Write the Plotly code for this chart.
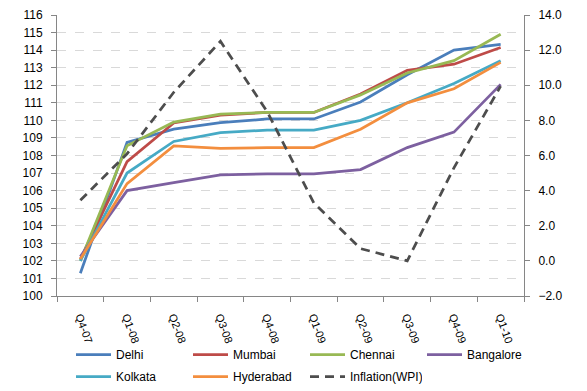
import plotly.graph_objects as go

quarters = ["Q4-07", "Q1-08", "Q2-08", "Q3-08", "Q4-08", "Q1-09", "Q2-09", "Q3-09", "Q4-09", "Q1-10"]
delhi = [101.3, 108.75, 109.5, 109.87, 110.08, 110.08, 111.05, 112.6, 114.0, 114.33]
mumbai = [102.1, 107.65, 109.85, 110.3, 110.45, 110.45, 111.5, 112.85, 113.2, 114.15]
chennai = [102.0, 108.55, 109.9, 110.35, 110.45, 110.45, 111.45, 112.7, 113.4, 114.9]
bangalore = [102.25, 106.0, 106.45, 106.9, 106.95, 106.95, 107.2, 108.45, 109.33, 112.05]
kolkata = [102.0, 107.0, 108.8, 109.3, 109.45, 109.45, 110.0, 111.0, 112.1, 113.4]
hyderabad = [102.1, 106.4, 108.55, 108.4, 108.45, 108.45, 109.5, 111.0, 111.8, 113.3]
inflation = [3.45, 6.1, 9.6, 12.5, 8.5, 3.3, 0.7, 0.0, 5.3, 9.95]

series = [
    ("Delhi", delhi, "#4A7EBB", "legend"),
    ("Mumbai", mumbai, "#BE4B48", "legend"),
    ("Chennai", chennai, "#98B954", "legend"),
    ("Bangalore", bangalore, "#7D60A0", "legend"),
    ("Kolkata", kolkata, "#46AAC5", "legend2"),
    ("Hyderabad", hyderabad, "#F38E3E", "legend2"),
]

fig = go.Figure()
for name, vals, col, lg in series:
    fig.add_trace(go.Scatter(x=quarters, y=vals, name=name, mode="lines", legend=lg,
                             line=dict(color=col, width=2.75)))
fig.add_trace(go.Scatter(x=quarters, y=inflation, name="Inflation(WPI)", mode="lines",
                         yaxis="y2", legend="legend2",
                         line=dict(color="#4D4D4D", width=2.75, dash="9px,6px")))

leg_common = dict(orientation="h", xanchor="left", yanchor="top", xref="container",
                  yref="container", entrywidth=67, entrywidthmode="pixels",
                  font=dict(size=12, color="#000000"), itemwidth=35,
                  bgcolor="rgba(0,0,0,0)")

fig.update_layout(
    width=587, height=391,
    margin=dict(l=49, r=71, t=7, b=103, autoexpand=False),
    paper_bgcolor="white", plot_bgcolor="white",
    font=dict(family="Liberation Sans, Arial, sans-serif", size=12, color="#000000"),
    showlegend=True,
    legend=dict(x=63 / 587, y=1 - 332 / 391, **leg_common),
    legend2=dict(x=63 / 587, y=1 - 354 / 391, **leg_common),
    xaxis=dict(type="category", range=[-0.5, 9.5], tickangle=70, showline=True,
               linecolor="#868686", linewidth=1, ticks="outside", tickson="boundaries",
               ticklen=5, tickcolor="#868686", showgrid=False, tickfont=dict(size=11),
               automargin=False, ticklabelstandoff=9),
    yaxis=dict(range=[100, 116], dtick=1, showline=True, linecolor="#868686",
               linewidth=1, ticks="outside", ticklen=5, tickcolor="#868686",
               showgrid=True, gridcolor="#D9D9D9", griddash="dash", gridwidth=1,
               zeroline=False, tickfont=dict(size=12), automargin=False,
               ticklabelstandoff=6),
    yaxis2=dict(range=[-2, 14], dtick=2, tickformat=".1f", overlaying="y", side="right",
                showline=True, linecolor="#868686", linewidth=1, ticks="outside",
                ticklen=5, tickcolor="#868686", showgrid=False, zeroline=False,
                tickfont=dict(size=12), automargin=False, ticklabelstandoff=6),
)

fig.write_html("out.html")
